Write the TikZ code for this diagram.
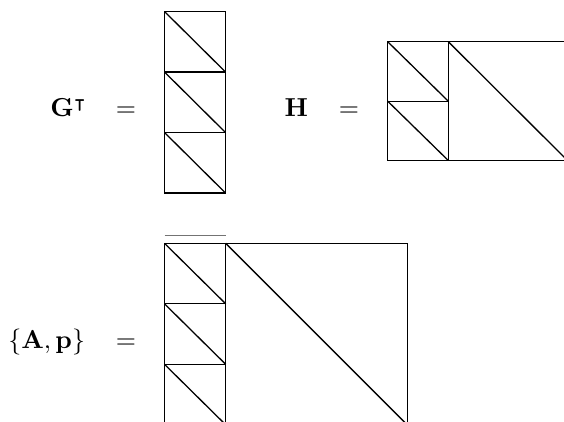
\documentclass[tikz,border=0pt]{standalone}
\usepackage{amsmath,amssymb}
\begin{document}
\begin{tikzpicture}[x=0.385pt,y=-0.385pt,
  mat/.style={line width=0.5pt,black},
  lbl/.style={inner sep=0pt,outer sep=0pt}]
\useasboundingbox (0,0) rectangle (564,422);
\begin{scope}
\clip (0,0) rectangle (564,422);
% G^T column
\foreach \t/\b in {11.5/72, 72/132.5, 132.5/193} {
  \draw[mat] (164.5,\t) rectangle (225.5,\b);
  \draw[mat] (164.5,\t) -- (225.5,\b);
}
% H
\foreach \t/\b in {41.7/101.2, 101.2/160.5} {
  \draw[mat] (387.7,\t) rectangle (448.3,\b);
  \draw[mat] (387.7,\t) -- (448.3,\b);
}
\draw[mat] (448.3,41.7) rectangle (567.5,160.5);
\draw[mat] (448.3,41.7) -- (567.5,160.5);
% {A,p}
\foreach \t/\b in {243.3/303.8, 303.8/364.3, 364.3/424.8} {
  \draw[mat] (164.5,\t) rectangle (225.7,\b);
  \draw[mat] (164.5,\t) -- (225.7,\b);
}
\draw[mat] (225.7,243.3) rectangle (407.3,424.9);
\draw[mat] (225.7,243.3) -- (407.3,424.9);
\draw[line width=0.6pt,black!55] (164.7,235.3) -- (225.7,235.3);
\end{scope}
% labels
\node[lbl,anchor=base east] (gt) at (87,117) {$\mathbf{G}^{\intercal}$};
\node[lbl,anchor=base] (eq1) at (126,117) {$=$};
\node[lbl,anchor=base east] (h) at (308,117) {$\mathbf{H}$};
\node[lbl,anchor=base] (eq2) at (349,117) {$=$};
\node[lbl,anchor=base east] (ap) at (85,348.5) {$\{\mathbf{A},\mathbf{p}\}$};
\node[lbl,anchor=base] (eq3) at (126,348.5) {$=$};
\end{tikzpicture}
\end{document}
